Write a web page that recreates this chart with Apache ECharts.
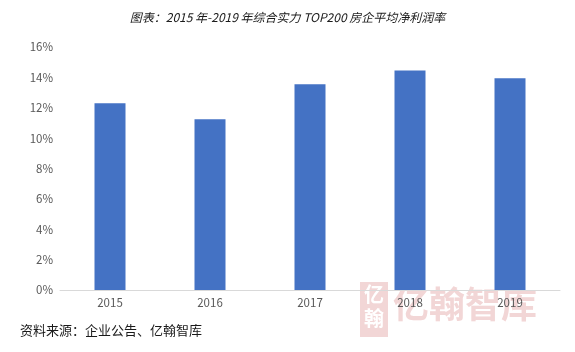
<!DOCTYPE html>
<html>
<head>
<meta charset="utf-8">
<title></title>
<style type="text/css">
  html, body { margin: 0; padding: 0; background: #fff; }
  #main { width: 575px; height: 352px; }
</style>
<script src="https://cdn.jsdelivr.net/npm/echarts@6/dist/echarts.min.js"></script>
</head>
<body>
<div id="main"></div>
<script type="text/javascript">
// 年份
var years = ['2015', '2016', '2017', '2018', '2019'];
// 平均净利润率 (%)
var netMargin = [12.3, 11.25, 13.55, 14.45, 13.95];
// 纵轴刻度
var yMin = 0, yMax = 16, yStep = 2;

var titleText = '图表：2015 年-2019 年综合实力 TOP200 房企平均净利润率';
var sourceText = '资料来源：企业公告、亿翰智库';

var myChart = echarts.init(document.getElementById('main'));
var font = '"Microsoft YaHei", "Noto Sans CJK SC", sans-serif';

var option = {
  animation: false,
  title: {
    text: titleText,
    left: 'center',
    top: 6,
    textStyle: { fontSize: 12, fontStyle: 'italic', fontWeight: 'normal', color: '#1a1a1a', fontFamily: font }
  },
  grid: { left: 60, right: 15, top: 47, bottom: 62 },
  xAxis: {
    type: 'category',
    data: years,
    axisLine: { lineStyle: { color: '#d9d9d9' } },
    axisTick: { show: false },
    axisLabel: { color: '#595959', fontSize: 11.5, margin: 7, fontFamily: font }
  },
  yAxis: {
    type: 'value',
    min: yMin,
    max: yMax,
    interval: yStep,
    splitLine: { show: false },
    axisLabel: { color: '#595959', fontSize: 11.5, margin: 7, formatter: '{value}%', fontFamily: font }
  },
  series: [{
    type: 'bar',
    data: netMargin,
    barWidth: '31%',
    itemStyle: { color: '#4472c4' },
    z: 2
  }],
  graphic: [
    // 水印
    { type: 'rect', left: 360, top: 282, z: -1, shape: { width: 28, height: 55 }, style: { fill: '#f2d6d6' } },
    { type: 'text', left: 364, top: 284, z: -1, style: { text: '亿', font: 'bold 20px ' + font, fill: '#ffffff' } },
    { type: 'text', left: 364, top: 308, z: -1, style: { text: '翰', font: 'bold 20px ' + font, fill: '#ffffff' } },
    { type: 'text', left: 393, top: 286, z: -1, style: { text: '亿翰智库', font: 'bold 36px ' + font, fill: '#f2d6d6' } },
    // 资料来源
    { type: 'text', left: 20, top: 324, style: { text: sourceText, font: '13px ' + font, fill: '#1a1a1a' } }
  ]
};
myChart.setOption(option);
</script>
</body>
</html>
